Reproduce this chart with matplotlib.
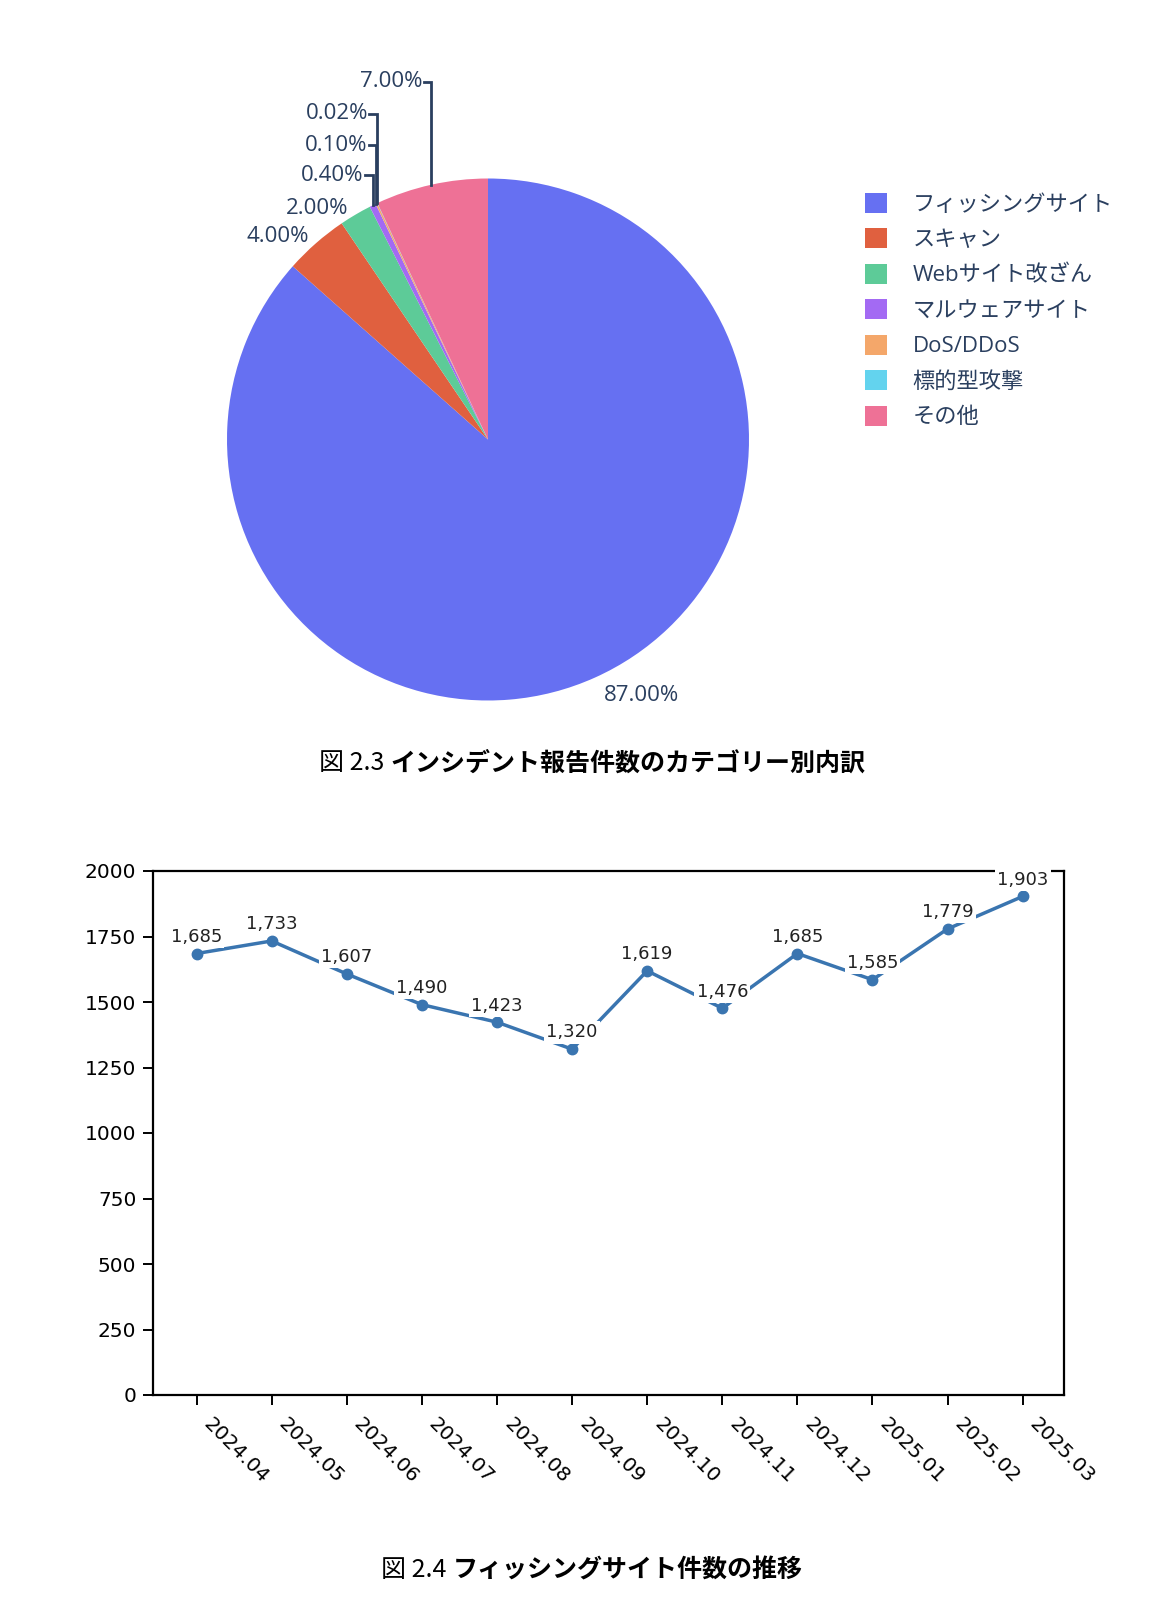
import numpy as np
import matplotlib
matplotlib.use("Agg")
import matplotlib.pyplot as plt
import matplotlib.transforms as mtrans
from matplotlib.patches import Patch

plt.rcParams['font.family'] = ['DejaVu Sans', 'Noto Sans CJK JP']

# 図 2.3 カテゴリー別内訳
categories = ["フィッシングサイト", "スキャン", "Webサイト改ざん", "マルウェアサイト",
              "DoS/DDoS", "標的型攻撃", "その他"]
shares = [87.00, 4.00, 2.00, 0.40, 0.10, 0.02, 7.00]
slice_colors = ["#6670F2", "#E0603F", "#5DCB98", "#A36AF3", "#F4A76A", "#63D3EE", "#EE7196"]

# 図 2.4 フィッシングサイト件数の推移
months = ["2024.04", "2024.05", "2024.06", "2024.07", "2024.08", "2024.09",
          "2024.10", "2024.11", "2024.12", "2025.01", "2025.02", "2025.03"]
phishing_counts = [1685, 1733, 1607, 1490, 1423, 1320, 1619, 1476, 1685, 1585, 1779, 1903]

W, H = 1171, 1622
fig = plt.figure(figsize=(W / 100, H / 100), dpi=100)


def px_axes(left, top, width, height):
    return fig.add_axes([left / W, 1 - (top + height) / H, width / W, height / H])


def caption(xc, ytop, prefix, rest):
    # "図 x.x" regular, the rest bold, centred as one line
    y = 1 - ytop / H
    a = fig.text(0, y, prefix + " ", ha="left", va="center", fontsize=18,
                 family=['Noto Sans CJK JP'])
    b = fig.text(0, y, rest, ha="left", va="center", fontsize=18, fontweight="bold",
                 family=['Noto Sans CJK JP'])
    r = fig.canvas.get_renderer()
    wa = a.get_window_extent(r).width
    wb = b.get_window_extent(r).width
    x0 = xc - (wa + wb) / 2
    a.set_x(x0 / W)
    b.set_x((x0 + wa) / W)


txt_col = "#2a3f5f"
pie_font = ['Open Sans', 'Noto Sans CJK JP']

# ---- pie ----
R = 261
cx, cy = 488, 439.5
ax1 = px_axes(cx - 1.6 * R, cy - 1.6 * R, 3.2 * R, 3.2 * R)
wedges, _ = ax1.pie(shares, colors=slice_colors, startangle=90, counterclock=False,
                    radius=1, wedgeprops=dict(linewidth=0))
ax1.set_xlim(-1.6, 1.6)
ax1.set_ylim(-1.6, 1.6)
ax1.set_aspect("equal")
ax1.axis("off")

# labels with leader lines (index -> label height in radius units)
leader_levels = {6: 1.37, 5: 1.248, 4: 1.128, 3: 1.012}
for i, w in enumerate(wedges):
    ang = np.deg2rad((w.theta1 + w.theta2) / 2)
    ex, ey = np.cos(ang), np.sin(ang)
    lab = f"{shares[i]:.2f}%"
    if i in leader_levels:
        ly = leader_levels[i]
        ax1.plot([ex, ex, ex - 0.03], [ey, ly, ly], color=txt_col, lw=2,
                 solid_joinstyle="miter", clip_on=False)
        ax1.text(ex - 0.035, ly, lab, ha="right", va="center", fontsize=16,
                 color=txt_col, family=pie_font)
    elif ey > 0:
        ax1.text(ex - 0.028, ey + 0.004, lab, ha="right", va="baseline",
                 fontsize=16, color=txt_col, family=pie_font)
    else:
        ax1.text(ex + 0.033, ey - 0.028, lab, ha="left", va="top", fontsize=16,
                 color=txt_col, family=pie_font)

handles = [Patch(facecolor=c, edgecolor="none") for c in slice_colors]
fig.legend(handles, categories, loc="upper left", bbox_to_anchor=(865 / W, 1 - 193 / H),
           frameon=False, borderpad=0, borderaxespad=0, handlelength=1.0,
           handleheight=1.0, handletextpad=1.15, labelspacing=0.58,
           prop=dict(family=pie_font, size=16), labelcolor=txt_col)

caption(592, 763, "図 2.3", "インシデント報告件数のカテゴリー別内訳")

# ---- line ----
ax2 = px_axes(153, 871, 911, 524)
x = np.arange(len(months))
ax2.plot(x, phishing_counts, color="#3A75B0", lw=2.5, marker="o", ms=7.5, zorder=2)
for i, v in enumerate(phishing_counts):
    ax2.annotate(f"{v:,}", (i, v), xytext=(0, 12), textcoords="offset points",
                 ha="center", va="center", fontsize=13, color="#222222",
                 bbox=dict(boxstyle="square,pad=0.12", fc="white", ec="none"),
                 zorder=4)
ax2.set_xlim(-0.58, 11.55)
ax2.set_ylim(0, 2000)
ax2.set_yticks(range(0, 2001, 250))
ax2.set_xticks(x)
ax2.set_xticklabels(months, rotation=-45, ha="left", va="center", rotation_mode="anchor")
ax2.tick_params(axis="both", length=7, width=1.4, labelsize=14.5)
ax2.tick_params(axis="x", pad=12)
ax2.tick_params(axis="y", pad=5)
shift = mtrans.ScaledTranslation(0.1, 0, fig.dpi_scale_trans)
for lbl in ax2.get_xticklabels():
    lbl.set_transform(lbl.get_transform() + shift)
for s in ax2.spines.values():
    s.set_linewidth(1.6)

caption(592, 1570, "図 2.4", "フィッシングサイト件数の推移")

fig.savefig("out.png", dpi=100)
